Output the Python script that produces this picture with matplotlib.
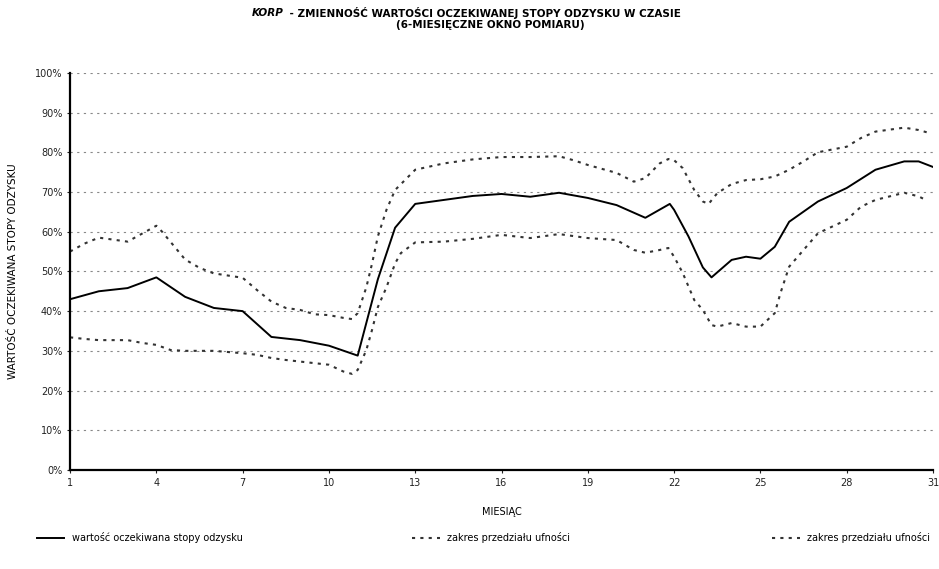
import matplotlib.pyplot as plt
from matplotlib.ticker import FuncFormatter

# (miesiąc, wartość w %)
mies_sr = [1, 2, 3, 4, 5, 6, 7, 8, 9, 10, 11, 11.7, 12.3, 13, 14, 15, 16, 17, 18, 19, 20, 21,
           21.85, 22, 22.5, 23, 23.3, 24, 24.5, 25, 25.5, 26, 27, 28, 29, 30, 30.5, 31]
wart_sr = [43, 45, 45.8, 48.5, 43.6, 40.8, 40, 33.5, 32.7, 31.3, 28.8, 48, 61, 67, 68, 69, 69.5, 68.8, 69.8, 68.5,
           66.7, 63.5, 67, 65.5, 58.8, 51, 48.5, 52.9, 53.7, 53.2, 56.2, 62.5, 67.6, 71, 75.6, 77.7, 77.7, 76.3]

mies_gora = [1, 1.5, 2, 3, 3.5, 4, 4.2, 5, 5.5, 6, 7, 7.5, 8, 8.5, 9, 9.5, 10, 10.5, 10.8, 11, 11.3, 11.5,
             11.7, 12, 12.3, 13, 14, 15, 16, 17, 18, 18.5, 19, 20, 20.6, 21, 21.5, 21.8, 22, 22.3, 22.7,
             23, 23.2, 23.5, 24, 24.5, 25, 25.5, 26, 26.5, 27, 28, 28.5, 29, 30, 30.5, 30.8]
wart_gora = [55, 57, 58.5, 57.5, 59.5, 61.5, 60, 53, 50.9, 49.5, 48.4, 45.3, 42.4, 40.8, 40.3, 39.2, 39, 38.3, 38,
             39.5, 46, 52, 58.8, 65.5, 70.5, 75.6, 77.2, 78.2, 78.8, 78.8, 79, 78, 76.8, 74.8, 72.6, 73.5, 77.2,
             78.3, 78, 76, 70.5, 67.6, 67, 69.7, 72, 73, 73.2, 73.9, 75.6, 77.7, 80, 81.4, 83.6, 85.2, 86.2,
             85.6, 85]

mies_dol = [1, 1.5, 2, 3, 3.5, 4, 4.5, 5, 6, 7, 7.5, 8, 8.5, 9, 9.5, 10, 10.5, 10.8, 11, 11.3, 11.5, 11.7,
            12, 12.3, 12.5, 13, 14, 15, 16, 17, 18, 19, 20, 20.6, 21, 21.5, 21.8, 22, 22.3, 22.7, 23, 23.3,
            23.5, 24, 24.5, 25, 25.5, 25.7, 26, 26.5, 27, 28, 28.5, 29, 30, 30.5, 30.8]
wart_dol = [33.4, 33, 32.7, 32.7, 32, 31.5, 30.2, 30, 30, 29.4, 29, 28.2, 27.7, 27.3, 26.9, 26.5, 24.8, 24.2,
            25.2, 30.2, 35.3, 41, 46, 52, 54.6, 57.3, 57.5, 58.2, 59.2, 58.4, 59.4, 58.4, 57.9, 55.4, 54.7,
            55.4, 55.9, 53.7, 49.6, 42.8, 40.3, 36.5, 36.1, 37, 36.1, 36.1, 39.5, 44.6, 51.2, 55.4, 59.6, 63,
            66.3, 68, 69.8, 68.9, 67.8]

tick_x = [1, 4, 7, 10, 13, 16, 19, 22, 25, 28, 31]
tick_y = [0, 10, 20, 30, 40, 50, 60, 70, 80, 90, 100]

fig = plt.figure(figsize=(9.39, 5.69), dpi=100)
ax = fig.add_axes([0.0746, 0.174, 0.919, 0.698])

h1, = ax.plot(mies_sr, wart_sr, color='black', lw=1.4, label='wartość oczekiwana stopy odzysku')
h2, = ax.plot(mies_gora, wart_gora, color='#333333', lw=1.5, linestyle=(0, (1.5, 2.5)),
              label='zakres przedziału ufności')
h3, = ax.plot(mies_dol, wart_dol, color='#333333', lw=1.5, linestyle=(0, (1.5, 2.5)),
              label='zakres przedziału ufności')

ax.set_xlim(1, 31)
ax.set_ylim(0, 100)
ax.set_xticks(tick_x)
ax.set_yticks(tick_y)
ax.yaxis.set_major_formatter(FuncFormatter(lambda v, p: '%d%%' % v))
ax.tick_params(labelsize=7, length=2, width=0.8, colors='#222222')
ax.grid(axis='y', color='#888888', lw=0.8, linestyle=(0, (2, 4)))
ax.set_axisbelow(True)
for s in ['top', 'right']:
    ax.spines[s].set_visible(False)
for s in ['left', 'bottom']:
    ax.spines[s].set_linewidth(1.6)

ax.set_ylabel('WARTOŚĆ OCZEKIWANA STOPY ODZYSKU', fontsize=7.5, labelpad=12)
ax.set_xlabel('MIESIĄC', fontsize=7, labelpad=14)

fig.text(0.268, 0.978, 'KORP', fontsize=7.5, fontweight='bold', fontstyle='italic', va='center')
fig.text(0.305, 0.978, ' - ZMIENNOŚĆ WARTOŚCI OCZEKIWANEJ STOPY ODZYSKU W CZASIE', fontsize=7.5,
         fontweight='bold', va='center')
fig.text(0.522, 0.956, '(6-MIESIĘCZNE OKNO POMIARU)', fontsize=7.5, fontweight='bold', va='center', ha='center')

# trzy osobne wpisy legendy rozstawione jak w oryginale
fig.legend(handles=[h1], loc='center left', bbox_to_anchor=(0.035, 0.055), frameon=False, fontsize=7,
           handlelength=2.8, borderaxespad=0)
fig.legend(handles=[h2], loc='center left', bbox_to_anchor=(0.435, 0.055), frameon=False, fontsize=7,
           handlelength=2.8, borderaxespad=0)
fig.legend(handles=[h3], loc='center right', bbox_to_anchor=(0.995, 0.055), frameon=False, fontsize=7,
           handlelength=2.8, borderaxespad=0)

fig.savefig('out.png', dpi=100)
